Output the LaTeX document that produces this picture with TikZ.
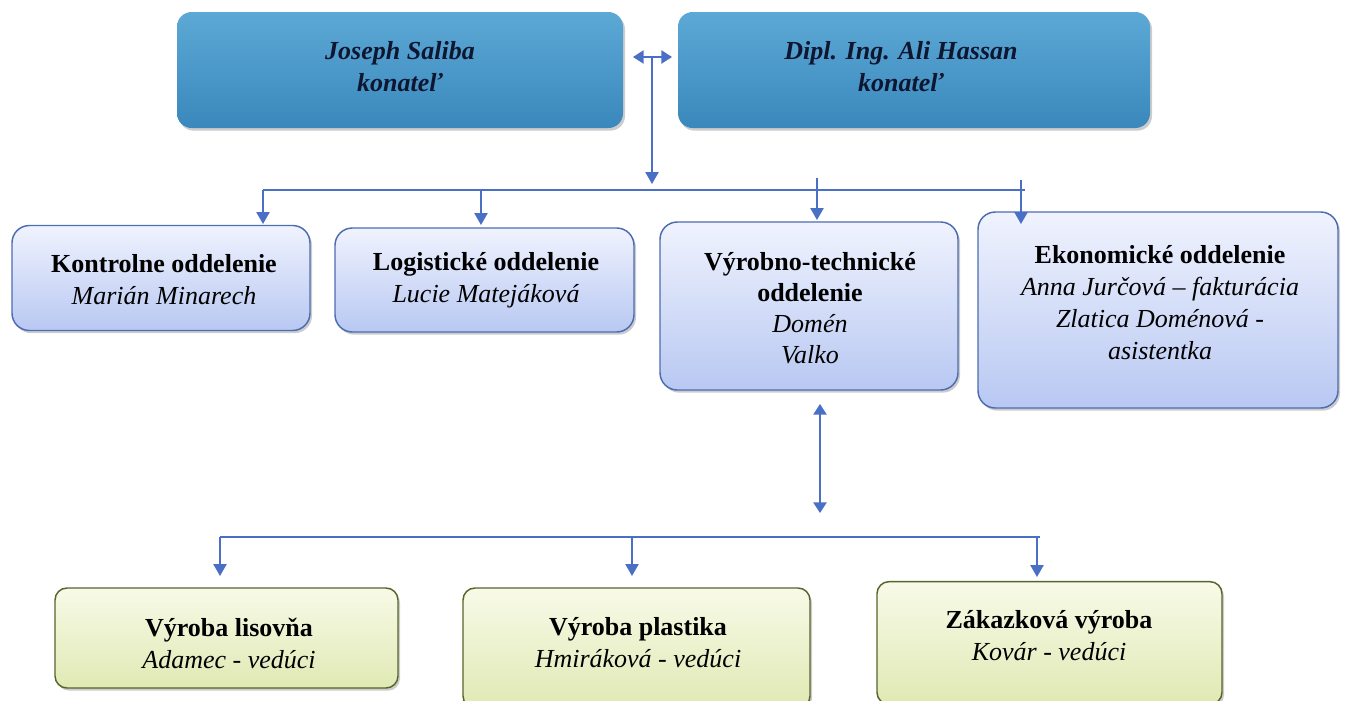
\documentclass[tikz,border=0pt]{standalone}
\usepackage{fontspec}
\setmainfont{Liberation Serif}
\usetikzlibrary{arrows.meta,shadows}
\definecolor{arr}{HTML}{4A70C6}
\definecolor{navy}{HTML}{0E1630}
\definecolor{topA}{HTML}{5CA9D6}
\definecolor{topB}{HTML}{3A88BC}
\definecolor{midA}{HTML}{F0F3FE}
\definecolor{midB}{HTML}{B8C8F2}
\definecolor{midE}{HTML}{4E6CB0}
\definecolor{lowA}{HTML}{F8FAE8}
\definecolor{lowB}{HTML}{E0E9B4}
\definecolor{lowE}{HTML}{55662A}
\begin{document}
\begin{tikzpicture}[x=0.75pt,y=-0.75pt,
  shd/.style={drop shadow={opacity=0.4,shadow xshift=1.5pt,shadow yshift=-2pt}},
  topbox/.style={rectangle,rounded corners=11pt,top color=topA,bottom color=topB,draw=none,shd},
  midbox/.style={rectangle,rounded corners=13pt,top color=midA,bottom color=midB,draw=midE,line width=1.1pt,shd},
  lowbox/.style={rectangle,rounded corners=9pt,top color=lowA,bottom color=lowB,draw=lowE,line width=1.1pt,shd},
  txt/.style={align=center,inner sep=0pt,font=\fontsize{19.5}{24}\selectfont},
  con/.style={draw=arr,line width=1.1pt},
  arrow/.style={con,-{Triangle[width=10pt,length=9pt]}},
  darrow/.style={con,{Triangle[width=10pt,length=8pt]}-{Triangle[width=10pt,length=8pt]}}
]
\clip (0,0) rectangle (1346,700);
% top boxes
\node[topbox,minimum width=334.5pt,minimum height=87pt] (b1) at (400,70) {};
\node[topbox,minimum width=354pt,minimum height=87pt] (b2) at (914,70) {};
\node[txt,text=navy] (t1) at (400,66.5) {\textbf{\textit{Joseph Saliba}}\\\textbf{\textit{konateľ}}};
\node[txt,text=navy] (t2) at (901,66.5) {\textbf{\textit{Dipl. Ing. Ali Hassan}}\\\textbf{\textit{konateľ}}};
% middle boxes
\node[midbox,minimum width=223.5pt,minimum height=78.75pt] (k) at (161,278) {};
\node[midbox,minimum width=224.25pt,minimum height=78pt] (l) at (484.5,280) {};
\node[midbox,minimum width=223.5pt,minimum height=126pt] (v) at (809,306) {};
\node[midbox,minimum width=270pt,minimum height=147pt] (e) at (1158,310) {};
\node[txt] (tk) at (164,280) {\textbf{Kontrolne oddelenie}\\\textit{Marián Minarech}};
\node[txt] (tl) at (486,280) {\textbf{Logistické oddelenie}\\\textit{Lucie Matejáková}};
\node[txt,font=\fontsize{19.5}{23.3}\selectfont] (tv) at (810,308) {\textbf{Výrobno-technické}\\\textbf{oddelenie}\\\textit{Domén}\\\textit{Valko}};
\node[txt] (te) at (1160,303) {\textbf{Ekonomické oddelenie}\\\textit{Anna Jurčová – fakturácia}\\\textit{Zlatica Doménová -}\\\textit{asistentka}};
% lower boxes
\node[lowbox,minimum width=257.25pt,minimum height=75pt] (p1) at (226.5,638) {};
\node[lowbox,minimum width=260.25pt,minimum height=90pt] (p2) at (636.5,648) {};
\node[lowbox,minimum width=258.75pt,minimum height=92pt] (p3) at (1049.5,643) {};
\node[txt] (tp1) at (229,643) {\textbf{Výroba lisovňa}\\\textit{Adamec - vedúci}};
\node[txt] (tp2) at (638,643) {\textbf{Výroba plastika}\\\textit{Hmiráková - vedúci}};
\node[txt] (tp3) at (1049,636) {\textbf{Zákazková výroba}\\\textit{Kovár - vedúci}};
% connectors top
\coordinate (ha) at (633,57);
\coordinate (hb) at (672,57);
\coordinate (hc) at (652,57);
\coordinate (hd) at (652,184);
\draw[darrow] (ha) -- (hb);
\draw[arrow] (hc) -- (hd);
\coordinate (busL) at (263,190);
\coordinate (busR) at (1025,190);
\draw[con] (busL) -- (busR);
\coordinate (bk) at (263,224);
\coordinate (bl) at (481,190);
\coordinate (blt) at (481,225);
\coordinate (bv) at (817,178);
\coordinate (bvt) at (817,220);
\coordinate (be) at (1021,180);
\coordinate (bet) at (1021,224);
\draw[arrow] (busL) -- (bk);
\draw[arrow] (bl) -- (blt);
\draw[arrow] (bv) -- (bvt);
\draw[arrow] (be) -- (bet);
% connectors lower
\coordinate (va) at (820,404);
\coordinate (vb) at (820,513);
\draw[darrow] (va) -- (vb);
\coordinate (bus2L) at (220,537);
\coordinate (bus2R) at (1040,537);
\draw[con] (bus2L) -- (bus2R);
\coordinate (q1) at (220,576);
\coordinate (q2a) at (632,537);
\coordinate (q2) at (632,576);
\coordinate (q3a) at (1037,537);
\coordinate (q3) at (1037,577);
\draw[arrow] (bus2L) -- (q1);
\draw[arrow] (q2a) -- (q2);
\draw[arrow] (q3a) -- (q3);
\end{tikzpicture}
\end{document}
